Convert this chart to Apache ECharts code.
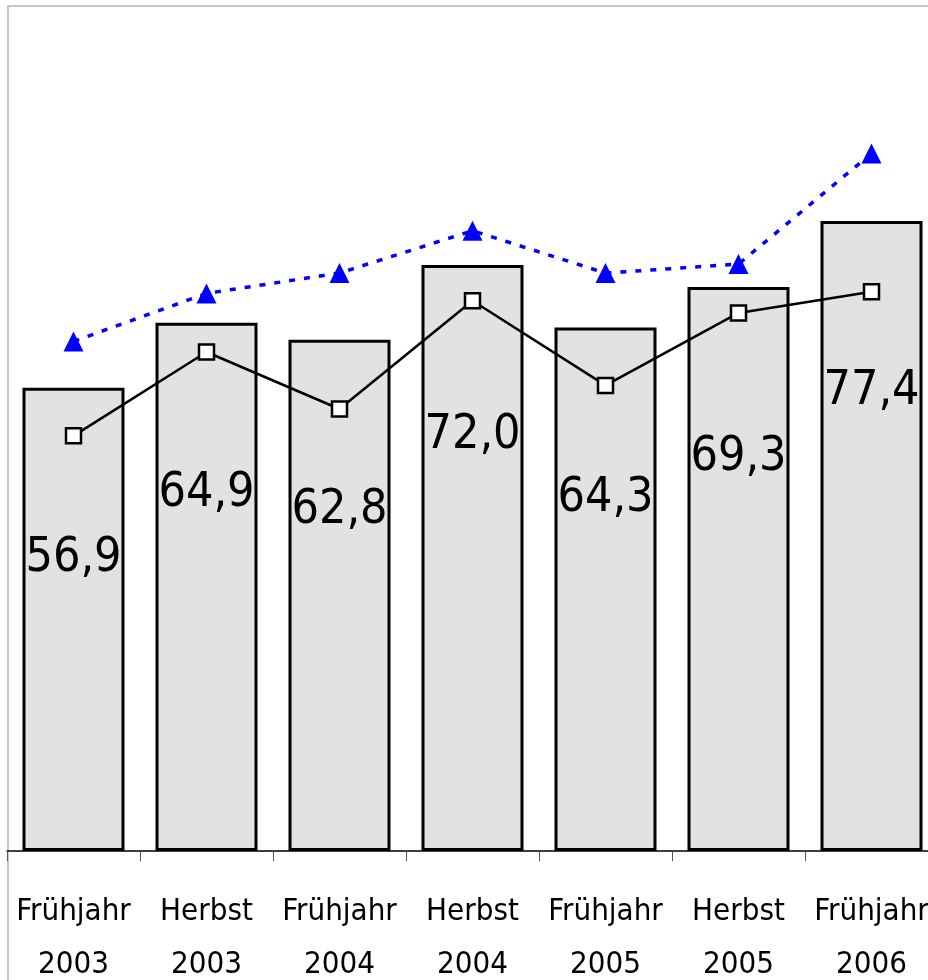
<!DOCTYPE html>
<html>
<head>
<meta charset="utf-8">
<script src="https://cdn.jsdelivr.net/npm/echarts@6/dist/echarts.min.js"></script>
<style>
  html, body { margin: 0; padding: 0; background: #fff; }
  #chart { width: 928px; height: 980px; }
</style>
</head>
<body>
<div id="chart"></div>
<script>
// Kategorien (Erhebungswellen)
var categories = ['Frühjahr\n2003', 'Herbst\n2003', 'Frühjahr\n2004', 'Herbst\n2004',
                  'Frühjahr\n2005', 'Herbst\n2005', 'Frühjahr\n2006'];
// Balkenwerte
var barValues = [56.9, 64.9, 62.8, 72.0, 64.3, 69.3, 77.4];
// Linie mit Quadraten
var squareValues = [51.0, 61.3, 54.3, 67.6, 57.2, 66.1, 68.7];
// gestrichelte Linie mit Dreiecken
var triangleValues = [62.6, 68.5, 71.0, 76.2, 71.0, 72.1, 85.7];

var labelFont = '"Liberation Sans Narrow", "DejaVu Sans Condensed", "Liberation Sans", sans-serif';

var myChart = echarts.init(document.getElementById('chart'));

var option = {
    animation: false,
    backgroundColor: '#ffffff',
    grid: {
        left: 7,
        top: 37,
        width: 931,
        height: 814,
        outerBoundsMode: 'none',
        containLabel: false
    },
    // grauer Rahmen oben und links
    graphic: [
        { type: 'line', shape: { x1: 7, y1: 6, x2: 928, y2: 6 }, style: { stroke: '#c8c8c8', lineWidth: 2 } },
        { type: 'line', shape: { x1: 8, y1: 5, x2: 8, y2: 980 }, style: { stroke: '#c8c8c8', lineWidth: 2 } }
    ],
    xAxis: {
        type: 'category',
        data: categories,
        axisLine: { lineStyle: { color: '#000', width: 1.5 } },
        axisTick: { show: true, length: 10, lineStyle: { color: '#555', width: 1 } },
        axisLabel: {
            color: '#000',
            fontFamily: labelFont,
            fontSize: 31,
            lineHeight: 53,
            margin: 34,
            interval: 0
        }
    },
    yAxis: {
        type: 'value',
        min: 0,
        max: 100,
        show: false,
        splitLine: { show: false }
    },
    series: [
        {
            type: 'bar',
            data: barValues,
            barWidth: 102,
            itemStyle: {
                color: '#e2e2e2',
                borderColor: '#000',
                borderWidth: 3
            },
            label: {
                show: true,
                position: 'insideTop',
                distance: 147,
                color: '#000',
                fontFamily: labelFont,
                fontSize: 48,
                formatter: function (p) {
                    return p.value.toFixed(1).replace('.', ',');
                }
            },
            z: 1
        },
        {
            type: 'line',
            data: squareValues,
            symbol: 'rect',
            symbolSize: 15,
            lineStyle: { color: '#000', width: 2.5 },
            itemStyle: { color: '#fff', borderColor: '#000', borderWidth: 2.5 },
            z: 3
        },
        {
            type: 'line',
            data: triangleValues,
            symbol: 'triangle',
            symbolSize: [20, 20],
            lineStyle: { color: '#0000ff', width: 3.5, type: [6, 9] },
            itemStyle: { color: '#0000ff', borderWidth: 0 },
            z: 4
        }
    ]
};

myChart.setOption(option);
</script>
</body>
</html>
